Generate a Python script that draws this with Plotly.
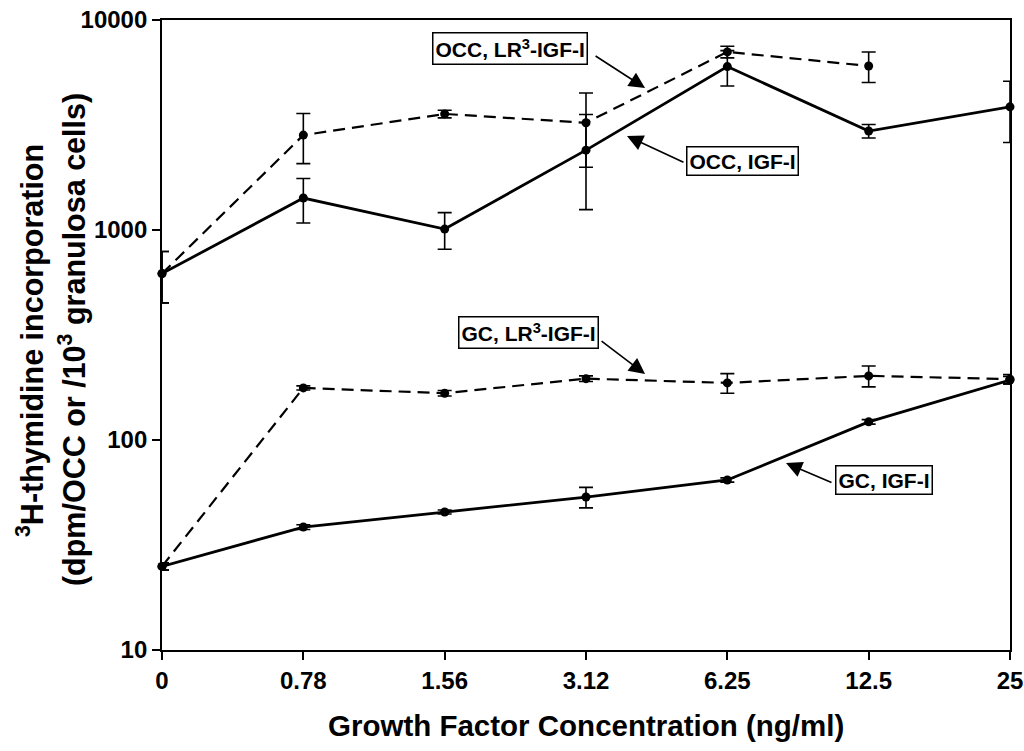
import plotly.graph_objects as go

# ---- data ----
x_labels = ["0", "0.78", "1.56", "3.12", "6.25", "12.5", "25"]
x_idx = list(range(len(x_labels)))

occ_igf = [620, 1420, 1010, 2400, 6000, 2960, 3860]
occ_igf_err = [170, 340, 200, 1150, 1150, 220, 1250]

occ_lr3 = [620, 2830, 3570, 3240, 7050, 6040, None]
occ_lr3_err = [170, 760, 150, 1250, 450, 1000, None]

gc_igf = [25, 38.5, 45.4, 53.5, 64.5, 122, 193]
gc_igf_err = [1, 1, 1, 6, 1.5, 3, 8]

gc_lr3 = [25, 177, 167, 196, 187, 202, 195]
gc_lr3_err = [1, 4, 5, 6, 20, 23, 10]

y_ticks = [10, 100, 1000, 10000]

FONT = "Liberation Sans"

fig = go.Figure()

def add_series(y, err, dash, width):
    fig.add_trace(go.Scatter(
        x=x_idx, y=y, mode="lines+markers",
        line=dict(color="black", width=width, dash=dash),
        marker=dict(symbol="circle", size=9, color="black"),
        error_y=dict(type="data", array=err, visible=True,
                     color="black", thickness=1.6, width=7),
        connectgaps=False, showlegend=False, cliponaxis=False,
    ))

add_series(occ_lr3, occ_lr3_err, "12px,7px", 2.2)
add_series(occ_igf, occ_igf_err, "solid", 2.8)
add_series(gc_lr3, gc_lr3_err, "12px,7px", 2.2)
add_series(gc_igf, gc_igf_err, "solid", 2.8)

# ---- labels and arrows ----
labels = [
    ("OCC, LR<sup>3</sup>-IGF-I", 2.46, 3.862),
    ("OCC, IGF-I", 4.104, 3.329),
    ("GC, LR<sup>3</sup>-IGF-I", 2.590, 2.510),
    ("GC, IGF-I", 5.109, 1.810),
]
for txt, xx, yy in labels:
    fig.add_annotation(x=xx, y=yy, xref="x", yref="y", text="<b>" + txt + "</b>",
                       showarrow=False, font=dict(family=FONT, size=21, color="black"),
                       bordercolor="black", borderwidth=1.5, borderpad=2,
                       bgcolor="white")

arrows = [
    (3.418, 3.676, -51, -33),
    (3.290, 3.448, 58, 27),
    (3.418, 2.314, -45, -34),
    (4.415, 1.890, 47, 20),
]
for xx, yy, ax, ay in arrows:
    fig.add_annotation(x=xx, y=yy, xref="x", yref="y", text="",
                       showarrow=True, ax=ax, ay=ay, arrowhead=2,
                       arrowsize=2.0, arrowwidth=1.6, arrowcolor="black")

# axis titles (y title as two rotated lines)
fig.add_annotation(x=-0.1557, y=0.492, xref="paper", yref="paper",
                   text="<b><sup>3</sup>H-thymidine incorporation</b>",
                   textangle=-90, showarrow=False, xanchor="center", yanchor="middle",
                   font=dict(family=FONT, size=30.5, color="black"))
fig.add_annotation(x=-0.1061, y=0.492, xref="paper", yref="paper",
                   text="<b>(dpm/OCC or /10<sup>3</sup> granulosa cells)</b>",
                   textangle=-90, showarrow=False, xanchor="center", yanchor="middle",
                   font=dict(family=FONT, size=30.5, color="black"))
fig.add_annotation(x=0.5, y=-0.12, xref="paper", yref="paper",
                   text="<b>Growth Factor Concentration (ng/ml)</b>",
                   showarrow=False, xanchor="center", yanchor="middle",
                   font=dict(family=FONT, size=29.5, color="black"))

fig.update_layout(
    width=1024, height=751,
    margin=dict(l=162, r=14, t=20, b=101, autoexpand=False),
    paper_bgcolor="white", plot_bgcolor="white",
    font=dict(family=FONT, color="black"),
)
fig.update_xaxes(
    range=[0, 6], tickmode="array", tickvals=x_idx, ticktext=["<b>%s</b>" % t for t in x_labels],
    tickfont=dict(family=FONT, size=24), ticks="outside", ticklen=8, tickwidth=1.5,
    tickcolor="black", showline=True, linecolor="black", linewidth=2, mirror=True,
    showgrid=False, zeroline=False, automargin=False,
)
fig.update_yaxes(
    type="log", range=[1, 4], tickmode="array", tickvals=y_ticks,
    ticktext=["<b>%d</b>" % t for t in y_ticks],
    tickfont=dict(family=FONT, size=24), ticks="outside", ticklen=8, tickwidth=1.5,
    tickcolor="black", showline=True, linecolor="black", linewidth=1.8, mirror=True,
    showgrid=False, zeroline=False, automargin=False,
)

fig.write_html("out.html")
